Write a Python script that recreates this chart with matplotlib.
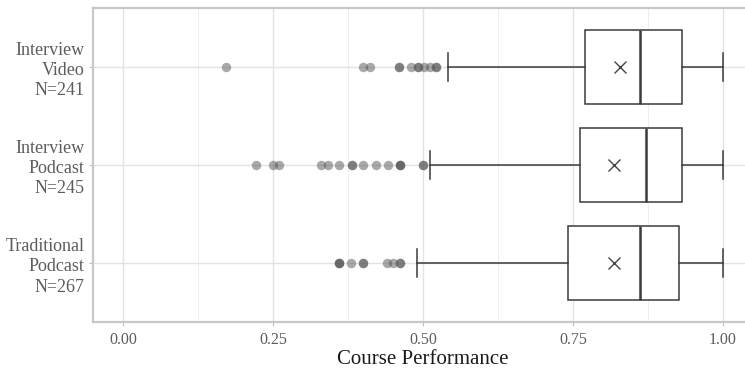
import matplotlib
matplotlib.use("Agg")
import matplotlib.pyplot as plt
from matplotlib.ticker import MultipleLocator

plt.rcParams['font.family'] = ['Liberation Serif', 'DejaVu Serif']

# Data (top to bottom in the chart)
groups = ["Interview\nVideo\nN=241", "Interview\nPodcast\nN=245", "Traditional\nPodcast\nN=267"]
q1 = [0.770, 0.761, 0.741]
median = [0.861, 0.871, 0.861]
q3 = [0.931, 0.931, 0.926]
whisker_low = [0.541, 0.512, 0.490]
whisker_high = [1.00, 1.00, 1.00]
means = [0.829, 0.819, 0.819]
outliers_video = [0.171, 0.40, 0.412, 0.46, 0.46, 0.48, 0.491, 0.491, 0.502, 0.511, 0.521, 0.521]
outliers_int_podcast = [0.221, 0.25, 0.26, 0.33, 0.341, 0.36, 0.381, 0.381, 0.40, 0.421, 0.441,
                        0.461, 0.461, 0.461, 0.50, 0.50]
outliers_trad_podcast = [0.36, 0.36, 0.36, 0.38, 0.40, 0.40, 0.44, 0.45, 0.461, 0.461]
outliers = [outliers_video, outliers_int_podcast, outliers_trad_podcast]
xticks = [0.00, 0.25, 0.50, 0.75, 1.00]
xtick_labels = ["0.00", "0.25", "0.50", "0.75", "1.00"]

fig = plt.figure(figsize=(7.45, 3.68), dpi=100)
ax = fig.add_axes([93/745, 46/368, 660/745, 314/368])

stats = []
for i in range(3):
    stats.append(dict(med=median[i], q1=q1[i], q3=q3[i], whislo=whisker_low[i],
                      whishi=whisker_high[i], mean=means[i], fliers=outliers[i], label=groups[i]))

positions = [2, 1, 0]
edge = '#3a3a3a'
ax.bxp(stats, positions=positions, vert=False, widths=0.75, capwidths=0.29,
       showmeans=True, patch_artist=True,
       boxprops=dict(facecolor='white', edgecolor=edge, linewidth=1.1),
       whiskerprops=dict(color=edge, linewidth=1.1),
       capprops=dict(color=edge, linewidth=1.1),
       medianprops=dict(color=edge, linewidth=1.8),
       meanprops=dict(marker='x', markeredgecolor='#444444', markersize=9, markeredgewidth=1.0),
       flierprops=dict(marker='o', markerfacecolor='#555555', markeredgecolor='none',
                       alpha=0.5, markersize=6.8))

ax.set_xlim(-0.05, 1.05)
ax.set_ylim(-0.6, 2.6)
ax.set_xticks(xticks)
ax.set_xticklabels(xtick_labels)
ax.xaxis.set_minor_locator(MultipleLocator(0.125))
ax.set_yticks(positions)
ax.set_yticklabels(groups, ha='right', multialignment='right', linespacing=1.25)

ax.grid(True, which='major', color='#e3e3e3', linewidth=1.0, zorder=0)
ax.grid(True, which='minor', axis='x', color='#eeeeee', linewidth=0.7, zorder=0)
ax.set_axisbelow(True)

for s in ax.spines.values():
    s.set_color('#c8c8c8')
    s.set_linewidth(1.6)

ax.tick_params(axis='both', which='major', length=3, color='#c0c0c0', labelcolor='#5c5c5c',
               labelsize=11.5, pad=4)
ax.tick_params(axis='y', labelsize=13, pad=3)
ax.tick_params(axis='x', which='minor', length=0)
ax.set_xlabel("Course Performance", fontsize=15, color='#1a1a1a', labelpad=2)

fig.savefig("out.png", dpi=100)
